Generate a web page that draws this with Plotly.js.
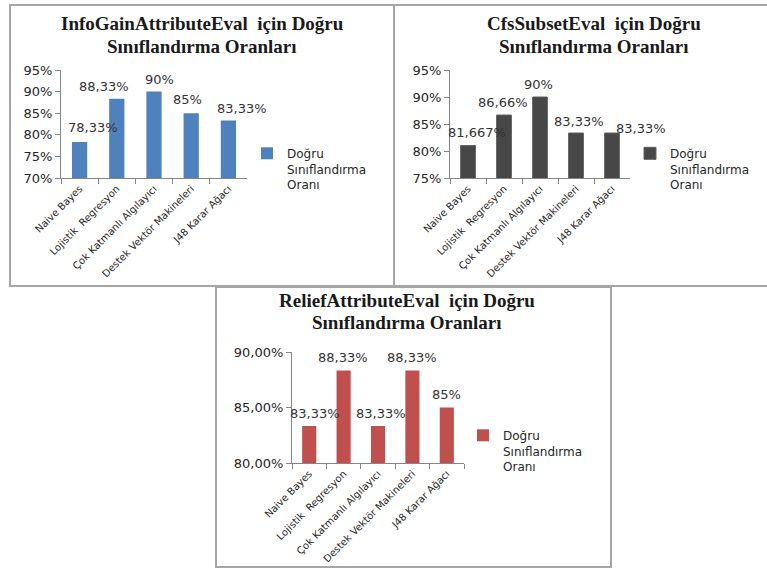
<!DOCTYPE html>
<html>
<head>
<meta charset="utf-8">
<script src="https://cdn.plot.ly/plotly-3.0.1.min.js"></script>
<style>html,body{margin:0;padding:0;background:#fff;}#chart{width:767px;height:568px;}</style>
</head>
<body>
<div id="chart"></div>
<script>
// ---- data ----
const categories = ["Naive Bayes", "Lojistik  Regresyon", "Çok Katmanlı Algılayıcı", "Destek Vektör Makineleri", "J48 Karar Ağacı"];
const seriesName = "Doğru<br>Sınıflandırma<br>Oranı";

const infoGainValues = [78.33, 88.33, 90, 85, 83.33];
const infoGainLabels = ["78,33%", "88,33%", "90%", "85%", "83,33%"];
const infoGainTicks = [70, 75, 80, 85, 90, 95];
const infoGainTickText = ["70%", "75%", "80%", "85%", "90%", "95%"];

const cfsValues = [81, 86.66, 90, 83.33, 83.33];
const cfsLabels = ["81,667%", "86,66%", "90%", "83,33%", "83,33%"];
const cfsTicks = [75, 80, 85, 90, 95];
const cfsTickText = ["75%", "80%", "85%", "90%", "95%"];

const reliefValues = [83.33, 88.33, 83.33, 88.33, 85];
const reliefLabels = ["83,33%", "88,33%", "83,33%", "88,33%", "85%"];
const reliefTicks = [80, 85, 90];
const reliefTickText = ["80,00%", "85,00%", "90,00%"];

const titleLines = [
  ["InfoGainAttributeEval  için Doğru", "Sınıflandırma Oranları"],
  ["CfsSubsetEval  için Doğru", "Sınıflandırma Oranları"],
  ["ReliefAttributeEval  için Doğru", "Sınıflandırma Oranları"]
];

// ---- layout / style ----
const W = 767, H = 568;
const px = v => v / W;
const py = v => 1 - v / H;

const tickFont = {family: "DejaVu Sans", size: 13, color: "#262626"};
const catFont = {family: "DejaVu Sans", size: 10, color: "#262626"};
const labelFont = {family: "DejaVu Sans", size: 13, color: "#333333"};
const legendFont = {family: "DejaVu Sans", size: 12, color: "#262626"};
const titleFont = {family: "Liberation Serif", size: 19, color: "#1a1a1a", weight: "bold"};

// per-label pixel nudges (as placed in the original chart) [dx, dy-up]
const labelNudge1 = [[13, 15], [-13, 12], [5, 12], [-4, 14], [14, 12]];
const labelNudge2 = [[9, 13], [-1, 13], [-2, 12], [3, 12], [29, 5]];
const labelNudge3 = [[6, 13], [-1, 13], [3, 13], [0, 13], [0, 13]];

function barTrace(vals, color, edge, xa, ya, leg) {
  return {
    type: "bar", x: categories, y: vals, name: seriesName,
    marker: {color: color, line: {width: edge ? 1 : 0, color: edge || color}},
    xaxis: xa, yaxis: ya, legend: leg, showlegend: true, hoverinfo: "skip"
  };
}

const data = [
  barTrace(infoGainValues, "#4F81BD", null, "x", "y", "legend"),
  barTrace(cfsValues, "#474747", "#5e5e5e", "x2", "y2", "legend2"),
  barTrace(reliefValues, "#C0504D", null, "x3", "y3", "legend3")
];

function xAxis(x0, x1, anchor) {
  return {
    domain: [px(x0), px(x1)], anchor: anchor, type: "category",
    range: [-0.5, categories.length - 0.5], autorange: false,
    showline: true, linecolor: "#868686", linewidth: 1,
    ticks: "outside", tickson: "boundaries", ticklen: 5, tickcolor: "#868686",
    tickangle: -45, tickfont: catFont, showgrid: false, zeroline: false,
    automargin: false, fixedrange: true
  };
}
function yAxis(y0, y1, anchor, range, tv, tt) {
  return {
    domain: [py(y1), py(y0)], anchor: anchor, range: range, autorange: false,
    tickvals: tv, ticktext: tt,
    showline: true, linecolor: "#868686", linewidth: 1,
    ticks: "outside", ticklen: 5, tickcolor: "#868686",
    tickfont: tickFont, showgrid: false, zeroline: false,
    automargin: false, fixedrange: true
  };
}
function legendAt(x, y) {
  return {
    x: px(x), y: py(y), xanchor: "left", yanchor: "top",
    font: legendFont, bgcolor: "rgba(0,0,0,0)", borderwidth: 0,
    valign: "top", tracegroupgap: 0
  };
}
function titleAnn(text, x, y) {
  return {
    text: text, xref: "paper", yref: "paper", x: px(x), y: py(y),
    xanchor: "center", yanchor: "middle", showarrow: false, font: titleFont
  };
}
function valueAnns(vals, labels, nudges, xr, yr) {
  return vals.map((v, i) => ({
    text: labels[i], x: categories[i], y: v, xref: xr, yref: yr,
    xanchor: "center", yanchor: "middle", showarrow: false,
    xshift: nudges[i][0], yshift: nudges[i][1], font: labelFont
  }));
}
function box(x0, y0, x1, y1) {
  return {type: "rect", xref: "paper", yref: "paper",
    x0: px(x0), x1: px(x1), y0: py(y0), y1: py(y1),
    line: {color: "#a6a6a6", width: 2}, fillcolor: "rgba(0,0,0,0)"};
}

const layout = {
  width: W, height: H,
  margin: {l: 0, r: 0, t: 0, b: 0},
  paper_bgcolor: "#ffffff", plot_bgcolor: "rgba(0,0,0,0)",
  bargap: 0.59,
  font: {family: "DejaVu Sans"},
  xaxis: xAxis(61, 247, "y"),
  yaxis: yAxis(70, 178, "x", [70, 95], infoGainTicks, infoGainTickText),
  xaxis2: xAxis(450, 630, "y2"),
  yaxis2: yAxis(70, 178, "x2", [75, 95], cfsTicks, cfsTickText),
  xaxis3: xAxis(292, 464, "y3"),
  yaxis3: yAxis(352, 463, "x3", [80, 90], reliefTicks, reliefTickText),
  legend: legendAt(247, 139),
  legend2: legendAt(630, 139),
  legend3: legendAt(463, 421),
  annotations: [
    titleAnn(titleLines[0][0], 202, 24), titleAnn(titleLines[0][1], 202, 46),
    titleAnn(titleLines[1][0], 594, 24), titleAnn(titleLines[1][1], 594, 46),
    titleAnn(titleLines[2][0], 407, 300), titleAnn(titleLines[2][1], 407, 322)
  ].concat(
    valueAnns(infoGainValues, infoGainLabels, labelNudge1, "x", "y"),
    valueAnns(cfsValues, cfsLabels, labelNudge2, "x2", "y2"),
    valueAnns(reliefValues, reliefLabels, labelNudge3, "x3", "y3")
  ),
  shapes: [
    box(10, 5, 394, 286),
    box(394, 5, 770, 286),
    box(216, 287, 611, 567)
  ]
};

Plotly.newPlot("chart", data, layout, {displayModeBar: false, staticPlot: true});
</script>
</body>
</html>
